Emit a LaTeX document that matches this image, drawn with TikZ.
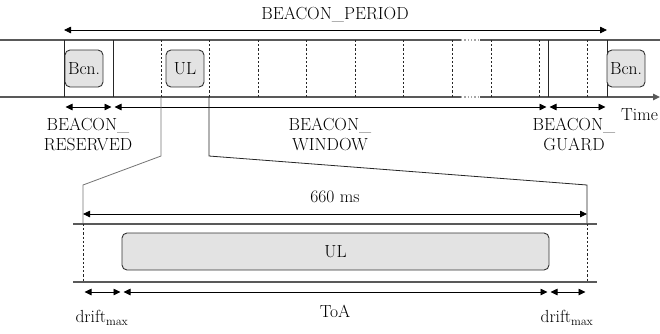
\documentclass[tikz,border=0pt]{standalone}
\usetikzlibrary{arrows.meta}
\begin{document}
\begin{tikzpicture}[x=1pt,y=-1pt,
  font=\fontsize{17.5}{20}\selectfont,
  bandline/.style={draw=black!65, line width=1.3pt},
  gapline/.style={draw=black!35, line width=1.3pt, dotted},
  solidv/.style={draw=black!85, line width=0.9pt},
  dashv/.style={draw=black!85, line width=0.8pt, dash pattern=on 2.2pt off 2pt},
  zoomline/.style={draw=black!85, line width=0.8pt},
  dim/.style={draw=black, line width=0.8pt, {Triangle[length=7pt,width=6.5pt]}-{Triangle[length=7pt,width=6.5pt]}, shorten <=1.5pt, shorten >=1.5pt},
  dimfull/.style={draw=black, line width=0.8pt, {Triangle[length=7pt,width=6.5pt]}-{Triangle[length=7pt,width=6.5pt]}},
  pkt/.style={draw=black!80, fill=black!11, rounded corners=5pt, line width=0.9pt, inner sep=0pt, align=center},
  lbl/.style={inner sep=0pt, align=center}
]
\useasboundingbox (0,0) rectangle (660,333);

% ---- top band
\coordinate (tl) at (0,40);   \coordinate (tr) at (660,40);
\coordinate (bl) at (0,97);   \coordinate (br) at (660,97);
\coordinate (tg1) at (461,40); \coordinate (tg2) at (480,40);
\coordinate (bg1) at (461,97); \coordinate (bg2) at (480,97);
\draw[bandline] (tl) -- (tg1);
\draw[gapline] (tg1) -- (tg2);
\draw[bandline] (tg2) -- (tr);
\draw[bandline] (bl) -- (bg1);
\draw[gapline] (bg1) -- (bg2);
\draw[bandline, -{Triangle[length=7pt,width=6.5pt]}] (bg2) -- (br);

% solid verticals
\foreach \n/\x in {a/64,b/113,c/548,d/607}{
  \coordinate (s\n t) at (\x,40);
  \coordinate (s\n b) at (\x,97);
  \draw[solidv] (s\n t) -- (s\n b);
}
% dashed verticals
\foreach \n/\x in {1/161,2/209,3/258,4/306,5/355,6/403,7/452,8/491,9/539,10/587}{
  \coordinate (d\n t) at (\x,40);
  \coordinate (d\n b) at (\x,97);
  \draw[dashv] (d\n t) -- (d\n b);
}

% packets
\node[pkt, minimum width=38pt, minimum height=37pt] (bcn1) at (84,68.5) {Bcn.};
\node[pkt, minimum width=38pt, minimum height=37pt] (ul1) at (185,68.5) {UL};
\node[pkt, minimum width=38pt, minimum height=37pt] (bcn2) at (626,68.5) {Bcn.};

% beacon period
\coordinate (pl) at (64,30); \coordinate (pr) at (607,30);
\draw[dimfull] (pl) -- (pr);
\node[lbl] (period) at (335,14) {BEACON\_PERIOD};

% lower dimension arrows
\coordinate (r1) at (64,107); \coordinate (r2) at (113,107);
\coordinate (r3) at (548,107); \coordinate (r4) at (607,107);
\draw[dim] (r1) -- (r2);
\draw[dim] (r2) -- (r3);
\draw[dim] (r3) -- (r4);
\node[lbl] (res) at (88,134) {BEACON\_\\[0pt]RESERVED};
\node[lbl] (win) at (330,134) {BEACON\_\\[0pt]WINDOW};
\node[lbl] (grd) at (574,134) {BEACON\_\\[0pt]GUARD};
\node[lbl, anchor=west] (time) at (621,115) {Time};

% zoom lines
\coordinate (z1a) at (161,156); \coordinate (z1b) at (83,185); \coordinate (z1c) at (83,224);
\coordinate (z2a) at (209,156); \coordinate (z2b) at (587,185); \coordinate (z2c) at (587,224);
\draw[zoomline, draw=black!55] (d1b) -- (z1a) -- (z1b) -- (z1c);
\draw[zoomline] (d2b) -- (z2a) -- (z2b) -- (z2c);

% ---- lower band
\coordinate (ltl) at (73,224); \coordinate (ltr) at (597,224);
\coordinate (lbl) at (73,282); \coordinate (lbr) at (597,282);
\draw[bandline] (ltl) -- (ltr);
\draw[bandline] (lbl) -- (lbr);
\coordinate (ld1b) at (83,282); \coordinate (ld2b) at (587,282);
\draw[dashv] (z1c) -- (ld1b);
\draw[dashv] (z2c) -- (ld2b);

\node[pkt, minimum width=427pt, minimum height=37pt] (ul2) at (335.5,251.5) {UL};

\coordinate (m1) at (83,214); \coordinate (m2) at (587,214);
\draw[dimfull] (m1) -- (m2);
\node[lbl] (ms) at (335,197) {660 ms};

\coordinate (q1) at (83,292); \coordinate (q2) at (122,292);
\coordinate (q3) at (549,292); \coordinate (q4) at (587,292);
\draw[dim] (q1) -- (q2);
\draw[dim] (q2) -- (q3);
\draw[dim] (q3) -- (q4);
\node[lbl] (toa) at (335,311) {ToA};
\node[lbl] (dr1) at (102,318) {drift$_{\mathrm{max}}$};
\node[lbl] (dr2) at (567,318) {drift$_{\mathrm{max}}$};
\end{tikzpicture}
\end{document}
